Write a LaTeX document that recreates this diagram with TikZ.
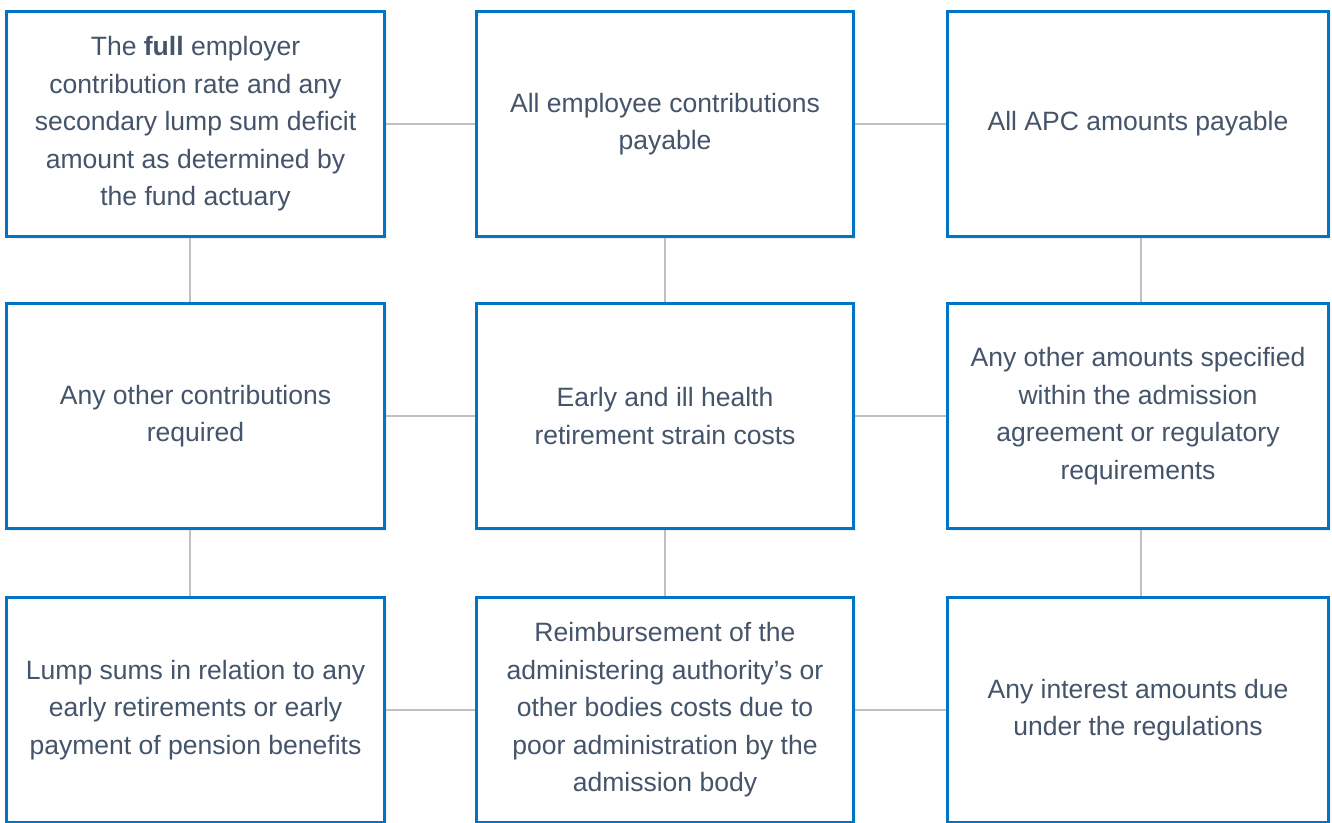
\documentclass[tikz,border=0pt]{standalone}
\usepackage{fontspec}
\setmainfont{Liberation Sans}
\usepackage{tikz}
\usetikzlibrary{shadows,positioning,calc}
\definecolor{boxblue}{RGB}{0,117,198}
\definecolor{txtgrey}{HTML}{44546A}
\definecolor{linkgrey}{RGB}{192,192,192}

\begin{document}
\begin{tikzpicture}[x=0.75pt,y=-0.75pt,
	item/.style={draw=boxblue, line width=2.25pt, fill=white, align=center,
		minimum width=283pt, minimum height=169pt, inner sep=4pt,
		text=txtgrey, font=\fontsize{19.9}{28.1}\selectfont,
		drop shadow={shadow xshift=2pt, shadow yshift=-2pt, opacity=0.12}},
	wide/.style={minimum width=286pt},
	link/.style={draw=linkgrey, line width=1.5pt}]
	\useasboundingbox (0,0) rectangle (1332,823);
	% top row
	\node [item] (rate) at (195.5,124) {The \textbf{full} employer\\contribution rate and any\\secondary lump sum deficit\\amount as determined by\\the fund actuary};
	\node [item] (employee) at (665,124) {All employee contributions\\payable};
	\node [item,wide] (apc) at (1138,124) {All APC amounts payable};
	% middle row
	\node [item] (other) at (195.5,416) {Any other contributions\\required};
	\node [item] (strain) at (665,416) {Early and ill health\\retirement strain costs};
	\node [item,wide] (specified) at (1138,416) {Any other amounts specified\\within the admission\\agreement or regulatory\\requirements};
	% bottom row
	\node [item] (lump) at (195.5,710) {Lump sums in relation to any\\early retirements or early\\payment of pension benefits};
	\node [item] (reimburse) at (665,710) {Reimbursement of the\\administering authority's or\\other bodies costs due to\\poor administration by the\\admission body};
	\node [item,wide] (interest) at (1138,710) {Any interest amounts due\\under the regulations};
	% links
	\draw [link] (rate) -- (employee);
	\draw [link] (employee) -- (apc);
	\draw [link] (other) -- (strain);
	\draw [link] (strain) -- (specified);
	\draw [link] (lump) -- (reimburse);
	\draw [link] (reimburse) -- (interest);
	\draw [link] ([xshift=-4pt]rate.south) -- ([xshift=-4pt]other.north);
	\draw [link] ([xshift=-4pt]other.south) -- ([xshift=-4pt]lump.north);
	\draw [link] (employee) -- (strain);
	\draw [link] (strain) -- (reimburse);
	\draw [link] ([xshift=2pt]apc.south) -- ([xshift=2pt]specified.north);
	\draw [link] ([xshift=2pt]specified.south) -- ([xshift=2pt]interest.north);
\end{tikzpicture}
\end{document}
